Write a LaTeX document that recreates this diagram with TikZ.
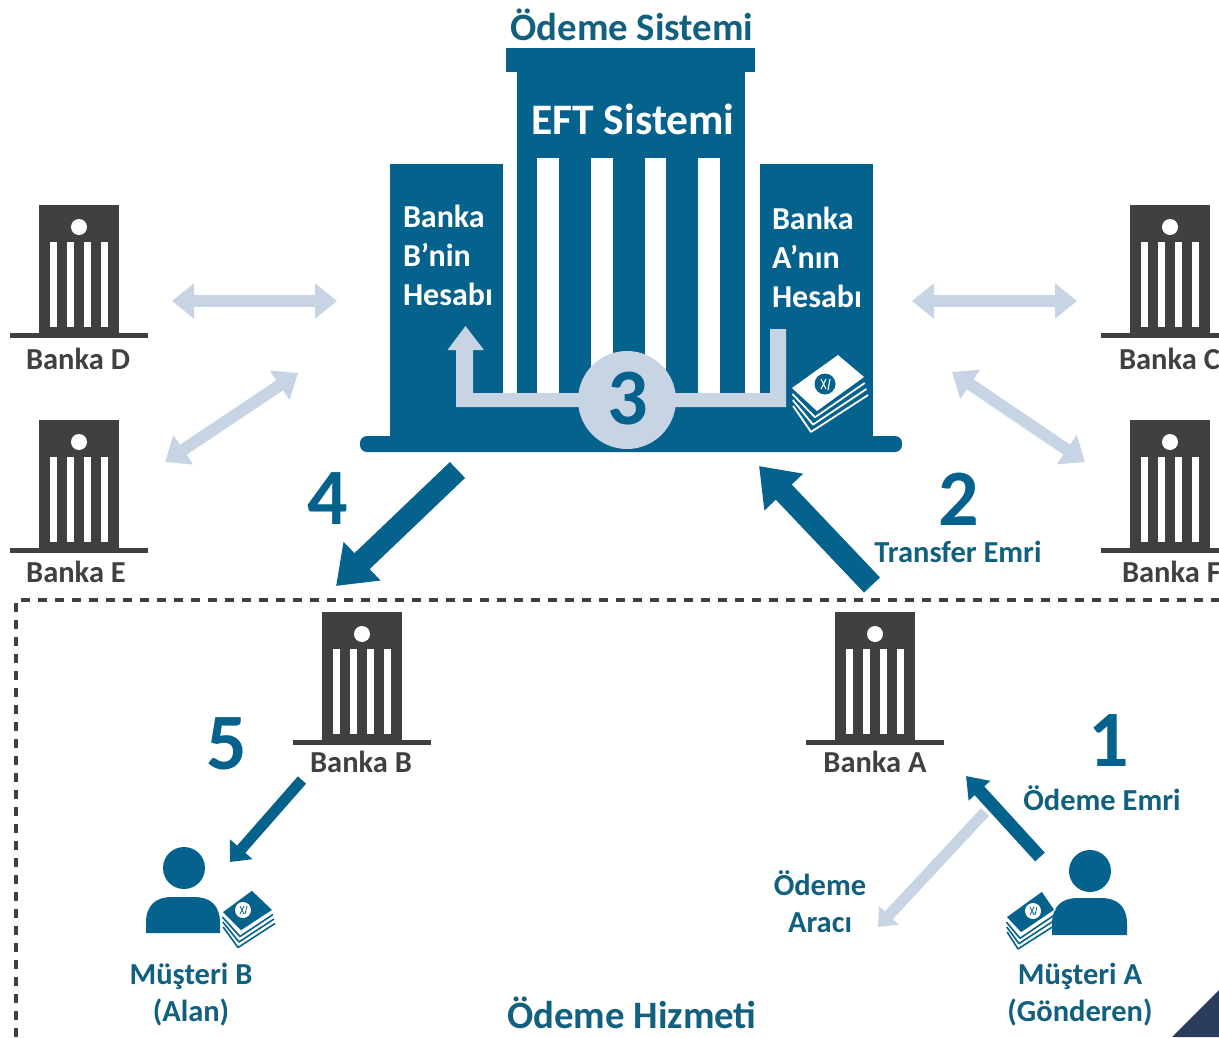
\documentclass[tikz,border=0pt]{standalone}
\usepackage{fontspec}
\setmainfont{Carlito}[Ligatures=TeX]
\usetikzlibrary{arrows.meta}
\definecolor{bluemain}{HTML}{05628C}
\definecolor{bluetext}{HTML}{11607F}
\definecolor{lightarrow}{HTML}{C6D4E3}
\definecolor{greybank}{HTML}{404040}
\definecolor{navycorner}{HTML}{2A3B5B}
\tikzset{
  every node/.style={inner sep=0pt,outer sep=0pt,align=center},
  bluelabel/.style={font=\fontsize{30.5}{30}\selectfont\bfseries,text=bluetext},
  bluetwolines/.style={font=\fontsize{30.5}{37}\selectfont\bfseries,text=bluetext},
  whitelabel/.style={font=\fontsize{32}{39}\selectfont\bfseries,text=white,align=left,anchor=west},
  banklabel/.style={font=\fontsize{30.5}{30}\selectfont\bfseries,text=greybank},
  numlabel/.style={font=\fontsize{80}{80}\selectfont\bfseries,text=bluemain},
  titlelabel/.style={font=\fontsize{38.8}{40}\selectfont\bfseries,text=bluetext},
  softarrow/.style={draw=lightarrow,line width=12pt,{Triangle[length=22pt,width=34pt]}-{Triangle[length=22pt,width=34pt]}},
  softsingle/.style={draw=lightarrow,line width=11pt,-{Triangle[length=16pt,width=26pt]}},
  bigarrow/.style={draw=bluemain,line width=22pt,-{Triangle[length=36pt,width=51pt]}},
  midarrow/.style={draw=bluemain,line width=13pt,-{Triangle[length=20pt,width=28pt]}},
  smallarrow/.style={draw=bluemain,line width=11pt,-{Triangle[length=17pt,width=29pt]}},
}
% #1 x, #2 y of the building body top-left
\newcommand{\bankicon}[2]{%
  \begin{scope}[shift={(#1,#2)}]
    \fill[greybank] (0,0) rectangle (80,128);
    \fill[greybank] (-29,128) rectangle (109,133);
    \fill[white] (40,22) circle (8);
    \foreach \cx in {11,28,45,62}{\fill[white] (\cx,37) rectangle (\cx+7,122);}
  \end{scope}}
% #1 x left of body, #2 x right of body, #3 y top, #4 y bottom
\newcommand{\personbody}[4]{%
  \fill[bluemain] (#1,#4) -- (#1,#3+26) .. controls (#1,#3+8) and (#1+10,#3) .. (#1+26,#3)
    -- (#2-26,#3) .. controls (#2-10,#3) and (#2,#3+8) .. (#2,#3+26) -- (#2,#4) -- cycle;}
\begin{document}
\begin{tikzpicture}[x=1pt,y=-1pt]
\useasboundingbox (0,0) rectangle (1219,1037);
\clip (0,0) rectangle (1219,1037);
\fill[white] (0,0) rectangle (1219,1037);

% central building
\fill[bluemain] (506,48) rectangle (755,72);
\fill[bluemain] (517,72) rectangle (745,436);
\fill[bluemain] (390,164) rectangle (503,436);
\fill[bluemain] (760,164) rectangle (872.5,436);
\fill[bluemain] (390,393) rectangle (872.5,436);
\fill[bluemain,rounded corners=7pt] (360,436) rectangle (902,452);
\foreach \cx/\cw in {537/22,591/21.5,644.5/21.5,698/22}{\fill[white] (\cx,158) rectangle (\cx+\cw,393);}

% transfer arrow inside the building
\fill[lightarrow] (786,329) -- (770,329) -- (770,393) -- (473,393) -- (473,350) -- (484,350)
  -- (465.5,326) -- (447.5,350) -- (456,350) -- (456,407) -- (786,407) -- cycle;
\node[circle,fill=lightarrow,minimum size=98pt] (three) at (627,400) {};
\node[numlabel] (threetxt) at (628,399) {3};

% money on the right block
\foreach \k in {3,2,1}{\draw[white,line width=1.8pt,line join=round] (792+.4*\k,388+6*\k) -- (817-2*\k,410+7.3*\k) -- (863+1.7*\k,377+6*\k);}
\fill[white] (792,388) -- (838,355) -- (864,377) -- (817,411) -- cycle;
\fill[bluemain] (825,384) circle (10.5);
\draw[white,line width=1.1pt] (821,379) -- (826,389) (826,379) -- (821,389) (830,379) -- (828,390);

\node[titlelabel] (sys) at (632,25) {Ödeme Sistemi};
\node[font=\fontsize{43.5}{44}\selectfont\bfseries,text=white] (eft) at (633,119) {EFT Sistemi};
\node[whitelabel] (hb) at (403,255.5) {Banka\\B’nin\\Hesabı};
\node[whitelabel] (ha) at (772,257) {Banka\\A’nın\\Hesabı};

% side banks
\bankicon{39}{205}
\bankicon{39}{420}
\bankicon{1130}{205}
\bankicon{1130}{420}
\bankicon{322}{612}
\bankicon{835}{612}
\node[banklabel] (bd) at (78,359) {Banka D};
\node[banklabel] (be) at (76,572) {Banka E};
\node[banklabel,anchor=west] (bc) at (1119,359) {Banka C};
\node[banklabel,anchor=west] (bf) at (1122,572) {Banka F};
\node[banklabel] (bb) at (361,762) {Banka B};
\node[banklabel] (ba) at (875,762) {Banka A};

% free ends of connectors
\coordinate (d1) at (172,301);   \coordinate (d2) at (337,301);
\coordinate (c1) at (912,301);   \coordinate (c2) at (1077,301);
\coordinate (e1) at (165,462);   \coordinate (e2) at (298,373);
\coordinate (f1) at (952,372);   \coordinate (f2) at (1085,462);
\coordinate (four1) at (457.5,470);  \coordinate (four2) at (336,586);
\coordinate (two1) at (872,585);   \coordinate (two2) at (759,466);
\coordinate (five1) at (302,780);  \coordinate (five2) at (230,862);
\coordinate (one1) at (1040,857);  \coordinate (one2) at (966,776);
\coordinate (ar1) at (985,812);    \coordinate (ar2) at (878,927);

\draw[softarrow] (d1) -- (d2);
\draw[softarrow] (c1) -- (c2);
\draw[softarrow] (e1) -- (e2);
\draw[softarrow] (f1) -- (f2);
\draw[softsingle] (ar1) -- (ar2);
\draw[bigarrow] (four1) -- (four2);
\draw[bigarrow] (two1) -- (two2);
\draw[smallarrow] (five1) -- (five2);
\draw[midarrow] (one1) -- (one2);

% numbers and labels
\node[numlabel] (n4) at (328,499) {4};
\node[numlabel] (n2) at (959,499) {2};
\node[numlabel] (n5) at (227,744) {5};
\node[numlabel] (n1) at (1109,741) {1};
\node[bluelabel] (tr) at (958,552) {Transfer Emri};
\node[bluelabel] (oe) at (1102,798) {Ödeme Emri};
\node[bluetwolines] (oa) at (820,902) {Ödeme\\Aracı};
\node[bluetwolines] (ma) at (1080,995) {Müşteri A\\(Gönderen)};
\node[bluetwolines] (mb) at (191,995) {Müşteri B\\(Alan)};
\node[titlelabel] (oh) at (632,1013) {Ödeme Hizmeti};

% dashed service frame
\coordinate (fa) at (16,1037); \coordinate (fb) at (16,600); \coordinate (fc) at (1219,600);
\draw[greybank,line width=4.5pt,dash pattern=on 9pt off 8pt] (fa) -- (fb) -- (fc);

% customer B
\fill[bluemain] (184,868) circle (21);
\personbody{146}{220}{897}{933}
\foreach \k in {3,2,1}{\draw[bluemain,line width=1.6pt,line join=round] (222+.4*\k,912+5*\k) -- (241-1*\k,931+5.5*\k) -- (272+1*\k,910+4.5*\k);}
\fill[bluemain,draw=white,line width=1pt] (222,912) -- (252,890) -- (273,910) -- (241,931) -- cycle;
\fill[white] (243,910) circle (8);
\draw[bluemain,line width=.8pt] (240,906) -- (244,914) (244,906) -- (240,914) (247,906) -- (245,914);

% customer A
\fill[bluemain] (1090,871) circle (21);
\personbody{1052}{1127}{898}{935}
\foreach \k in {3,2,1}{\draw[bluemain,line width=1.6pt,line join=round] (1006+.4*\k,917+5*\k) -- (1021-1*\k,933+5.3*\k) -- (1054+.5*\k,910+5*\k);}
\fill[bluemain,draw=white,line width=1pt] (1006,917) -- (1042,891) -- (1055,910) -- (1021,933) -- cycle;
\fill[white] (1033,911) circle (8);
\draw[bluemain,line width=.8pt] (1030,907) -- (1034,915) (1034,907) -- (1030,915) (1037,907) -- (1035,915);

% corner
\fill[navycorner] (1172,1037) -- (1219,990) -- (1219,1037) -- cycle;
\end{tikzpicture}
\end{document}
